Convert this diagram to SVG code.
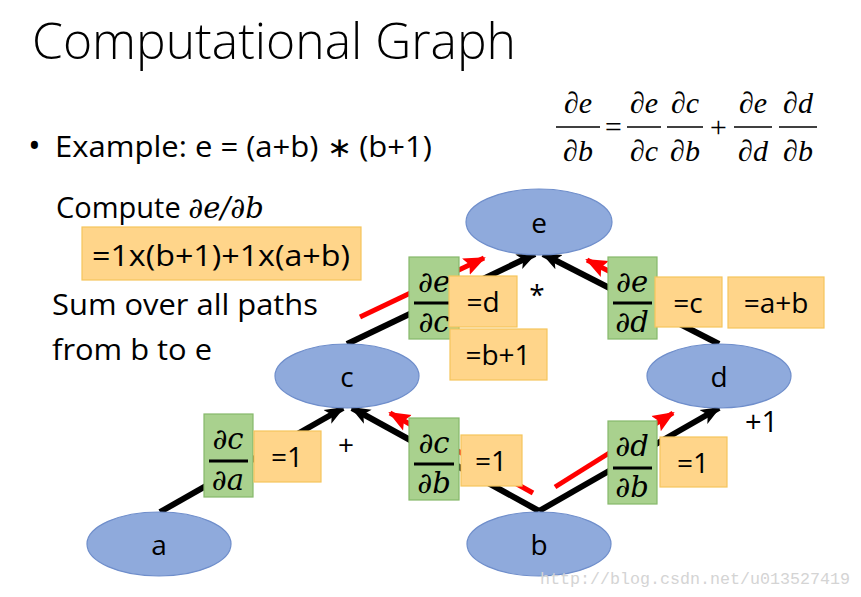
<svg xmlns="http://www.w3.org/2000/svg" width="861" height="597" viewBox="0 0 861 597">
<style>
.t{font-family:"Open Sans","Liberation Sans",sans-serif;fill:#000}
.m{font-family:"DejaVu Serif","Liberation Serif",serif;font-style:italic;fill:#000}
.tm{font-family:"Liberation Serif",serif;font-style:italic;fill:#000}
.node ellipse{fill:#8FAADC;stroke:#6F8ECB;stroke-width:1.2}
.g{fill:#A9D18E;stroke:#86B86A;stroke-width:1.2}
.o{fill:#FFD58A;stroke:#F5C55C;stroke-width:1.2}
.edge{stroke:#000;stroke-width:6;fill:none;marker-end:url(#ab)}
.red{stroke:#F00;stroke-width:5;fill:none;marker-end:url(#ar)}
.fl{stroke:#000;stroke-width:3}
.el{stroke:#000;stroke-width:1.3}
</style>
<defs>
<marker id="ab" markerUnits="userSpaceOnUse" markerWidth="20" markerHeight="20" viewBox="0 0 20 20" refX="18" refY="10" orient="auto">
<path d="M0,2 L20,10 L0,18 L5,10 Z" fill="#000"/>
</marker>
<marker id="ar" markerUnits="userSpaceOnUse" markerWidth="22" markerHeight="22" viewBox="0 0 22 22" refX="20" refY="11" orient="auto">
<path d="M0,2 L22,11 L0,20 L4,11 Z" fill="#F00"/>
</marker>
</defs>
<rect width="861" height="597" fill="#fff"/>
<text class="t" x="32" y="59" font-size="50" font-weight="300" textLength="484" lengthAdjust="spacingAndGlyphs">Computational Graph</text>
<text class="t" x="28" y="158" font-size="34">•</text>
<text class="t" x="55" y="157" font-size="29" textLength="377" lengthAdjust="spacingAndGlyphs">Example: e = (a+b) <tspan font-family="'Liberation Sans',sans-serif" font-size="28" fill="#000">∗</tspan> (b+1)</text>
<g id="equation">
<text class="tm" x="578" y="113" font-size="30" text-anchor="middle">∂e</text>
<line class="el" x1="556" y1="127" x2="600" y2="127"/>
<text class="tm" x="578" y="161" font-size="30" text-anchor="middle">∂b</text>
<text class="tm" x="613" y="137" font-size="30" font-style="normal" text-anchor="middle">=</text>
<text class="tm" x="644" y="113" font-size="30" text-anchor="middle">∂e</text>
<line class="el" x1="627" y1="127" x2="661" y2="127"/>
<text class="tm" x="644" y="161" font-size="30" text-anchor="middle">∂c</text>
<text class="tm" x="685" y="113" font-size="30" text-anchor="middle">∂c</text>
<line class="el" x1="667" y1="127" x2="703" y2="127"/>
<text class="tm" x="685" y="161" font-size="30" text-anchor="middle">∂b</text>
<text class="tm" x="718" y="137" font-size="30" font-style="normal" text-anchor="middle">+</text>
<text class="tm" x="753" y="113" font-size="30" text-anchor="middle">∂e</text>
<line class="el" x1="734" y1="127" x2="772" y2="127"/>
<text class="tm" x="753" y="161" font-size="30" text-anchor="middle">∂d</text>
<text class="tm" x="798" y="113" font-size="30" text-anchor="middle">∂d</text>
<line class="el" x1="779" y1="127" x2="817" y2="127"/>
<text class="tm" x="798" y="161" font-size="30" text-anchor="middle">∂b</text>
</g>
<text class="t" x="56" y="218" font-size="29">Compute <tspan class="m" font-size="29">∂e/∂b</tspan></text>
<rect class="o" x="82" y="227" width="279" height="53"/>
<text class="t" x="92" y="266" font-size="30" textLength="258" lengthAdjust="spacingAndGlyphs">=1x(b+1)+1x(a+b)</text>
<text class="t" x="52" y="315" font-size="29" textLength="266" lengthAdjust="spacingAndGlyphs">Sum over all paths</text>
<text class="t" x="52" y="360" font-size="29" textLength="160" lengthAdjust="spacingAndGlyphs">from b to e</text>
<g id="connectors">
<line class="edge" x1="160" y1="512" x2="343" y2="408"/>
<line class="edge" x1="539" y1="511" x2="352" y2="408"/>
<line class="edge" x1="539" y1="511" x2="719" y2="408"/>
<line class="edge" x1="347" y1="344" x2="535" y2="254"/>
<line class="edge" x1="719" y1="344" x2="543" y2="254"/>
<line class="red" x1="360" y1="317" x2="484" y2="258"/>
<line class="red" x1="640" y1="287" x2="587" y2="260"/>
<line class="red" x1="533" y1="493" x2="390" y2="413"/>
<line class="red" x1="555" y1="487" x2="673" y2="413"/>
</g>
<g id="node-e" class="node"><ellipse cx="539" cy="222" rx="73" ry="33"/><text class="t" x="539" y="233" font-size="28" text-anchor="middle">e</text></g>
<g id="node-c" class="node"><ellipse cx="347" cy="376" rx="72" ry="32"/><text class="t" x="347" y="387" font-size="28" text-anchor="middle">c</text></g>
<g id="node-d" class="node"><ellipse cx="719" cy="376" rx="72" ry="32"/><text class="t" x="719" y="387" font-size="28" text-anchor="middle">d</text></g>
<g id="node-a" class="node"><ellipse cx="159" cy="544" rx="72" ry="32"/><text class="t" x="159" y="555" font-size="28" text-anchor="middle">a</text></g>
<g id="node-b" class="node"><ellipse cx="539" cy="544" rx="72" ry="32"/><text class="t" x="539" y="555" font-size="28" text-anchor="middle">b</text></g>
<g id="label-de-dc">
<rect class="g" x="409" y="257" width="50" height="82"/>
<text class="m" x="434" y="292" font-size="29" text-anchor="middle">∂e</text>
<line class="fl" x1="414" y1="303" x2="454" y2="303"/>
<text class="m" x="434" y="332" font-size="29" text-anchor="middle">∂c</text>
</g>
<g id="label-eq-d"><rect class="o" x="449" y="276" width="68" height="51"/><text class="t" x="483" y="312" font-size="28" text-anchor="middle">=d</text></g>
<g id="label-eq-b1"><rect class="o" x="450" y="329" width="97" height="51"/><text class="t" x="498" y="365" font-size="28" text-anchor="middle">=b+1</text></g>
<text class="t" x="537" y="305" font-size="28" text-anchor="middle">*</text>
<g id="label-de-dd">
<rect class="g" x="608" y="257" width="49" height="82"/>
<text class="m" x="632" y="292" font-size="29" text-anchor="middle">∂e</text>
<line class="fl" x1="613" y1="303" x2="652" y2="303"/>
<text class="m" x="632" y="332" font-size="29" text-anchor="middle">∂d</text>
</g>
<g id="label-eq-c"><rect class="o" x="655" y="277" width="67" height="50"/><text class="t" x="688" y="313" font-size="28" text-anchor="middle">=c</text></g>
<g id="label-eq-ab"><rect class="o" x="728" y="277" width="96" height="51"/><text class="t" x="776" y="313" font-size="28" text-anchor="middle">=a+b</text></g>
<g id="label-dc-da">
<rect class="g" x="204" y="414" width="49" height="83"/>
<text class="m" x="228" y="449" font-size="29" text-anchor="middle">∂c</text>
<line class="fl" x1="209" y1="461" x2="248" y2="461"/>
<text class="m" x="228" y="490" font-size="29" text-anchor="middle">∂a</text>
</g>
<g id="label-eq-1a"><rect class="o" x="254" y="431" width="67" height="51"/><text class="t" x="287" y="467" font-size="28" text-anchor="middle">=1</text></g>
<text class="t" x="346" y="455" font-size="28" text-anchor="middle">+</text>
<g id="label-dc-db">
<rect class="g" x="409" y="418" width="50" height="82"/>
<text class="m" x="434" y="453" font-size="29" text-anchor="middle">∂c</text>
<line class="fl" x1="414" y1="464" x2="454" y2="464"/>
<text class="m" x="434" y="493" font-size="29" text-anchor="middle">∂b</text>
</g>
<g id="label-eq-1b"><rect class="o" x="461" y="435" width="61" height="51"/><text class="t" x="491" y="471" font-size="28" text-anchor="middle">=1</text></g>
<g id="label-dd-db">
<rect class="g" x="608" y="421" width="49" height="83"/>
<text class="m" x="632" y="456" font-size="29" text-anchor="middle">∂d</text>
<line class="fl" x1="613" y1="468" x2="652" y2="468"/>
<text class="m" x="632" y="497" font-size="29" text-anchor="middle">∂b</text>
</g>
<g id="label-eq-1d"><rect class="o" x="660" y="437" width="67" height="50"/><text class="t" x="693" y="473" font-size="28" text-anchor="middle">=1</text></g>
<text class="t" x="745" y="432" font-size="29">+1</text>
<text x="540" y="584" font-family="'Liberation Mono',monospace" font-size="17" fill="#D4D4D4" textLength="310" lengthAdjust="spacingAndGlyphs">http://blog.csdn.net/u013527419</text>
</svg>
